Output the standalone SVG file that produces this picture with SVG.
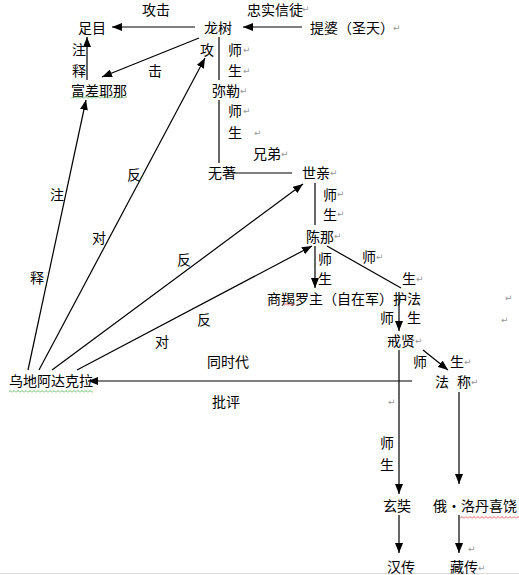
<svg xmlns="http://www.w3.org/2000/svg" width="519" height="575" viewBox="0 0 519 575">
<style>
text{font-family:"Noto Sans CJK SC","Noto Sans",sans-serif;font-size:14px;fill:#000}
.pm{font-family:"DejaVu Sans",sans-serif;font-size:9px;fill:#999}
.ln{stroke:#000;stroke-width:1.2;fill:none}
.ar{stroke:#000;stroke-width:1.2;fill:none;marker-end:url(#ah)}
</style>
<defs>
<marker id="ah" viewBox="0 0 10 8" refX="10" refY="4" markerWidth="10" markerHeight="8" markerUnits="userSpaceOnUse" orient="auto">
<path d="M0,0 L10,4 L0,8 Z" fill="#000"/>
</marker>
<pattern id="sqG" width="4" height="3" patternUnits="userSpaceOnUse"><path d="M0,2.5 L2,0.5 L4,2.5" stroke="#4a4" stroke-width="0.8" fill="none"/></pattern>
<pattern id="sqR" width="4" height="3" patternUnits="userSpaceOnUse"><path d="M0,2.5 L2,0.5 L4,2.5" stroke="#d33" stroke-width="0.8" fill="none"/></pattern>
</defs>
<rect width="519" height="575" fill="#fff"/>
<line x1="0" y1="573.5" x2="519" y2="573.5" stroke="#ddd" stroke-width="1"/>

<g id="connectors">
<line class="ar" x1="195" y1="27" x2="112" y2="27"/>
<line class="ar" x1="302" y1="27" x2="243" y2="27"/>
<line class="ar" x1="87" y1="80" x2="87" y2="37"/>
<line class="ar" x1="199" y1="38" x2="102" y2="77"/>
<line class="ar" x1="28" y1="370" x2="86" y2="100"/>
<line class="ar" x1="39" y1="370" x2="205" y2="58"/>
<line class="ar" x1="52" y1="370" x2="303" y2="184"/>
<line class="ar" x1="77" y1="370" x2="312" y2="246"/>
<line class="ar" x1="412" y1="381" x2="88" y2="381"/>
<line class="ar" x1="315" y1="246" x2="315" y2="288"/>
<line class="ln" x1="327" y1="246" x2="401" y2="288"/>
<line class="ar" x1="399" y1="292" x2="399" y2="331"/>
<line class="ar" x1="423" y1="350" x2="448" y2="370"/>
<line class="ar" x1="399" y1="350" x2="399" y2="494"/>
<line class="ar" x1="459" y1="392" x2="459" y2="484"/>
<line class="ar" x1="399" y1="515" x2="399" y2="553"/>
<line class="ar" x1="459" y1="515" x2="459" y2="553"/>
<line class="ln" x1="219" y1="37" x2="219" y2="80"/>
<line class="ln" x1="219" y1="100" x2="219" y2="163"/>
<line class="ln" x1="232" y1="173" x2="292" y2="173"/>
<line class="ln" x1="315" y1="183" x2="315" y2="225"/>
</g>

<g id="labels">
<text x="142" y="15">攻击</text>
<text x="247" y="15">忠实信徒</text>
<text x="72" y="55">注</text>
<text x="72" y="76">释</text>
<text x="200" y="55">攻</text>
<text x="148" y="76">击</text>
<text x="228" y="55">师</text>
<text x="228" y="76">生</text>
<text x="228" y="116">师</text>
<text x="228" y="138">生</text>
<text x="253" y="159">兄弟</text>
<text x="127" y="180">反</text>
<text x="92" y="243">对</text>
<text x="50" y="200">注</text>
<text x="30" y="283">释</text>
<text x="323" y="200">师</text>
<text x="323" y="220">生</text>
<text x="177" y="265">反</text>
<text x="318" y="264">师</text>
<text x="318" y="284">生</text>
<text x="362" y="262">师</text>
<text x="402" y="284">生</text>
<text x="197" y="325">反</text>
<text x="155" y="347">对</text>
<text x="380" y="323">师</text>
<text x="407" y="323">生</text>
<text x="207" y="367">同时代</text>
<text x="413" y="367">师</text>
<text x="450" y="367">生</text>
<text x="212" y="407">批评</text>
<text x="380" y="448">师</text>
<text x="380" y="470">生</text>
</g>

<g id="n-zumu"><text x="78" y="33">足目</text></g>
<g id="n-longshu"><text x="204" y="33">龙树</text></g>
<g id="n-tipo"><text x="310" y="33">提婆（圣天）</text></g>
<g id="n-mile"><text x="212" y="96">弥勒</text></g>
<g id="n-fuchayena"><text x="71" y="96">富差耶那</text><rect x="71" y="96" width="56" height="3" fill="url(#sqG)"/></g>
<g id="n-wuzhu"><text x="208" y="178">无著</text></g>
<g id="n-shiqin"><text x="302" y="178">世亲</text></g>
<g id="n-chenna"><text x="306" y="242">陈那</text></g>
<g id="n-shangjieluozhu"><text x="267" y="304">商羯罗主（自在军）护法</text><rect x="283" y="303" width="12" height="3" fill="url(#sqR)"/></g>
<g id="n-jiexian"><text x="387" y="346">戒贤</text></g>
<g id="n-wudi"><text x="9" y="386">乌地阿达克拉</text><rect x="9" y="390" width="84" height="3" fill="url(#sqG)"/></g>
<g id="n-facheng"><text x="435" y="387">法 <tspan x="457">称</tspan></text></g>
<g id="n-xuanzang"><text x="383" y="511">玄奘</text></g>
<g id="n-luodan"><text x="433" y="511">俄・洛丹喜饶</text><rect x="460" y="516" width="59" height="3" fill="url(#sqR)"/></g>
<g id="n-hanchuan"><text x="387" y="572">汉传</text></g>
<g id="n-zangchuan"><text x="450" y="572">藏传</text></g>

<g id="marks">
<text class="pm" x="302" y="12">↵</text>
<text class="pm" x="393" y="31">↵</text>
<text class="pm" x="243" y="53">↵</text>
<text class="pm" x="243" y="74">↵</text>
<text class="pm" x="240" y="94">↵</text>
<text class="pm" x="243" y="114">↵</text>
<text class="pm" x="254" y="136">↵</text>
<text class="pm" x="281" y="157">↵</text>
<text class="pm" x="330" y="176">↵</text>
<text class="pm" x="337" y="197">↵</text>
<text class="pm" x="337" y="217">↵</text>
<text class="pm" x="334" y="239">↵</text>
<text class="pm" x="376" y="260">↵</text>
<text class="pm" x="416" y="282">↵</text>
<text class="pm" x="505" y="301">↵</text>
<text class="pm" x="501" y="323">↵</text>
<text class="pm" x="415" y="344">↵</text>
<text class="pm" x="464" y="365">↵</text>
<text class="pm" x="471" y="385">↵</text>
<text class="pm" x="388" y="405">↵</text>
<text class="pm" x="468" y="552">↵</text>
<text class="pm" x="478" y="571">↵</text>
</g>
</svg>
